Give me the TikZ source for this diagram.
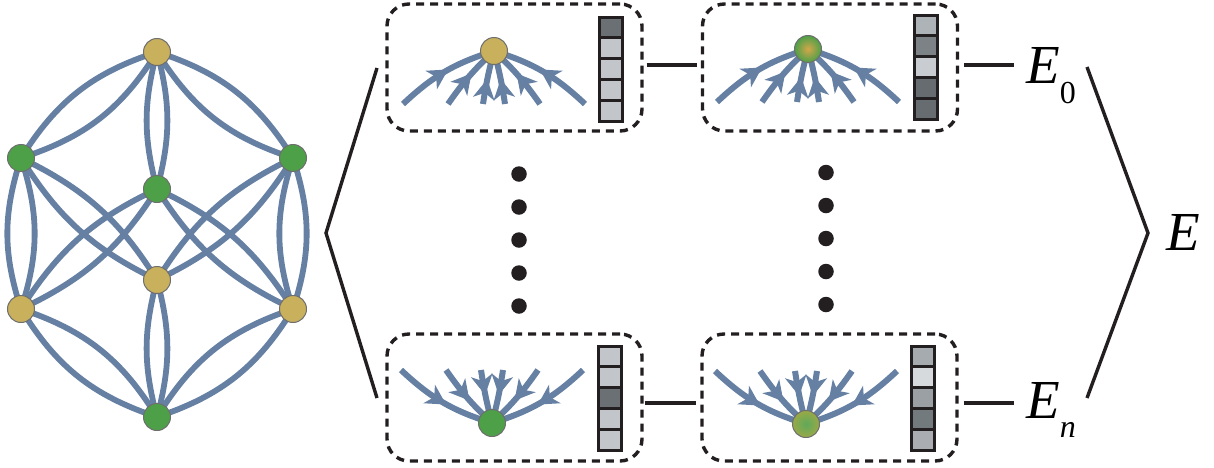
\documentclass[tikz,border=0pt]{standalone}
\usepackage{fontspec}
\setmainfont{Liberation Serif}
\usetikzlibrary{arrows.meta,decorations.markings,calc,backgrounds}
\definecolor{edgeblue}{HTML}{6680A3}
\definecolor{gold}{HTML}{C8B05C}
\definecolor{grn}{HTML}{4DA048}
\definecolor{ngray}{HTML}{6E6E6E}
\definecolor{ink}{HTML}{231F20}
\definecolor{vdark}{HTML}{6A7073}
\definecolor{vlight}{HTML}{C2C6CA}
\definecolor{va}{HTML}{AEB3B8}
\definecolor{vb}{HTML}{7C8286}
\definecolor{vc}{HTML}{C9CDD1}
\definecolor{vd}{HTML}{666C6F}
\definecolor{ve}{HTML}{A6ABB0}
\definecolor{vf}{HTML}{D7DADD}
\definecolor{vg}{HTML}{9BA0A5}
\definecolor{vh}{HTML}{737A7E}
\definecolor{vi}{HTML}{AAAEB3}
\newcommand\vecbar[3]{%
  \foreach \c [count=\i from 0] in {#3} {
    \fill[\c] (#1,{#2+\i*20.8}) rectangle ++(23,20.8);
    \draw[ink,line width=3pt] (#1,{#2+\i*20.8}) rectangle ++(23,20.8);
  }
}
\begin{document}
\begin{tikzpicture}[x=1pt,y=-1pt,
  gnode/.style={circle,draw=ngray,line width=1pt,minimum size=27pt,inner sep=0pt},
  goldnode/.style={gnode,fill=gold},
  greennode/.style={gnode,fill=grn},
  edge/.style={draw=edgeblue,line width=5.8pt},
  dbox/.style={draw=ink,line width=3.4pt,dash pattern=on 8pt off 6pt,rounded corners=22pt,minimum width=255pt,minimum height=127pt,inner sep=0pt},
  conn/.style={draw=ink,line width=3.4pt},
  fan/.style={draw=edgeblue,line width=6pt,postaction={decorate},
    decoration={markings,mark=at position #1 with {
      \fill[edgeblue] (9pt,0pt) -- (-11pt,11pt) -- (-5pt,0pt) -- (-11pt,-11pt) -- cycle;}}},
  dot/.style={circle,fill=ink,minimum size=15.5pt,inner sep=0pt},
  etext/.style={inner sep=0pt,anchor=base west,font=\fontsize{55}{55}\selectfont\itshape}
]
\useasboundingbox (0,0) rectangle (1214,467);

% ---------- cube graph ----------
\node[goldnode]  (T)  at (157,52)  {};
\node[greennode] (LU) at (21,158)  {};
\node[greennode] (RU) at (293,158) {};
\node[greennode] (CG) at (157,189) {};
\node[goldnode]  (CY) at (157,280) {};
\node[goldnode]  (LL) at (21,309)  {};
\node[goldnode]  (RL) at (293,309) {};
\node[greennode] (B)  at (157,417) {};
\begin{scope}[on background layer]
  \foreach \a/\b/\ang in {T/LU/20, T/RU/20, T/CG/15, LU/LL/18, RU/RL/18,
      LU/CY/16, RU/CY/16, CG/LL/16, CG/RL/16, CY/B/15, LL/B/20, RL/B/20} {
    \draw[edge] (\a.center) to[bend left=\ang] (\b.center);
    \draw[edge] (\a.center) to[bend right=\ang] (\b.center);
  }
\end{scope}

% ---------- dashed boxes ----------
\node[dbox] (b1) at (514.5,67.5) {};
\node[dbox] (b2) at (830,67.5) {};
\node[dbox] (b3) at (514.5,397.5) {};
\node[dbox] (b4) at (829.5,397.5) {};

% ---------- fan nodes ----------
\node[goldnode] (f1) at (494,51) {};
\node[gnode,inner color=gold!80!orange,outer color=grn] (f2) at (808,49) {};
\node[greennode] (f3) at (492,423) {};
\node[gnode,inner color=grn!90!white,outer color=gold!85!green!90!black] (f4) at (806,424) {};

\begin{scope}[on background layer]
  \foreach \f in {f1,f2} {
    \foreach \dx/\bb/\p in {-91/13/0.45, -46/6/0.42, -11/3/0.3, 11/-3/0.3, 46/-6/0.42, 91/-13/0.45}
      \draw[fan=\p] ($(\f.center)+(\dx,53)$) to[bend left=\bb] (\f.center);
  }
  \foreach \f in {f3,f4} {
    \foreach \dx/\bb/\p in {-91/-13/0.45, -46/-6/0.42, -11/-3/0.3, 11/3/0.3, 46/6/0.42, 91/13/0.45}
      \draw[fan=\p] ($(\f.center)+(\dx,-53)$) to[bend left=\bb] (\f.center);
  }
\end{scope}

% ---------- vectors ----------
\vecbar{599}{17}{vdark,vlight,vlight,vlight,vlight}
\vecbar{914}{15}{va,vb,vc,vd,vd}
\vecbar{598}{346}{vlight,vlight,vdark,vlight,vlight}
\vecbar{911}{346}{ve,vf,vg,vh,vi}

% ---------- dots ----------
\foreach \y [count=\k] in {174,207,240,273,306} {
  \node[dot] (dl\k) at (519,\y) {};
  \node[dot] (dr\k) at (826,\y-1.5) {};
}

% ---------- connectors between boxes ----------
\draw[conn] ($(b1.east)+(3,-2.5)$) -- ($(b2.west)+(-4,-2.5)$);
\draw[conn] ($(b3.east)+(1,5.5)$) -- ($(b4.west)+(-4,5.5)$);

% ---------- labels ----------
\node[etext] (e0) at (1026,83) {E\raisebox{-20pt}{\fontsize{32}{32}\selectfont\upshape 0}};
\node[etext] (en) at (1026,418) {E\raisebox{-19pt}{\fontsize{32}{32}\selectfont n}};
\node[etext] (E) at (1166,250) {E};
\draw[conn] ($(b2.east)+(5,-2.5)$) -- ($(e0.base west)+(-12,-18)$);
\draw[conn] ($(b4.east)+(5,5.5)$) -- ($(en.base west)+(-12,-15)$);

% ---------- brackets ----------
\coordinate (lb1) at (377,68);
\coordinate (lb2) at (326,233);
\coordinate (lb3) at (377,398);
\draw[conn] (lb1) -- (lb2) -- (lb3);
\coordinate (rb1) at (1087,67);
\coordinate (rb2) at (1148,233);
\coordinate (rb3) at (1087,398);
\draw[conn] (rb1) -- (rb2) -- (rb3);
\end{tikzpicture}
\end{document}
